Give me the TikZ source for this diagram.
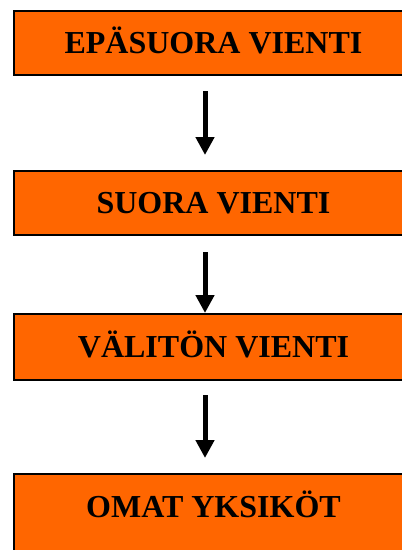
\documentclass[tikz,border=0pt]{standalone}
\usepackage{fontspec}
\setmainfont{Liberation Serif}
\usetikzlibrary{arrows.meta}
\definecolor{boxorange}{HTML}{FF6600}
\tikzset{
  stagebox/.style={draw=black, line width=2pt, fill=boxorange, rectangle,
    minimum width=400pt, inner xsep=0pt, inner ysep=0pt, outer sep=0pt,
    text height=21.2pt, text depth=0pt,
    font=\fontsize{32}{38}\selectfont\bfseries},
  flowarrow/.style={line width=5pt, -{Triangle[width=18pt,length=18pt]}}
}
\begin{document}
\begin{tikzpicture}[x=1pt,y=-1pt]
\useasboundingbox (0,0) rectangle (402,550);
\clip (0,0) rectangle (402,550);
\node[stagebox, minimum height=64pt] (a) at (213.5,42.5) {EPÄSUORA VIENTI};
\node[stagebox, minimum height=64pt] (b) at (213.5,203) {SUORA VIENTI};
\node[stagebox, minimum height=66pt] (c) at (213.5,347) {VÄLITÖN VIENTI};
\node[stagebox, anchor=north, inner ysep=21.8pt, text depth=60pt] (d) at (213.5,474) {OMAT YKSIKÖT};
\draw[flowarrow, shorten <=16.5pt, shorten >=16pt] ([xshift=-8.5pt]a.south) -- ([xshift=-8.5pt]b.north);
\draw[flowarrow, shorten <=17pt, shorten >=1pt] ([xshift=-8.5pt]b.south) -- ([xshift=-8.5pt]c.north);
\draw[flowarrow, shorten <=15pt, shorten >=16pt] ([xshift=-8.5pt]c.south) -- ([xshift=-8.5pt]d.north);
\end{tikzpicture}
\end{document}
